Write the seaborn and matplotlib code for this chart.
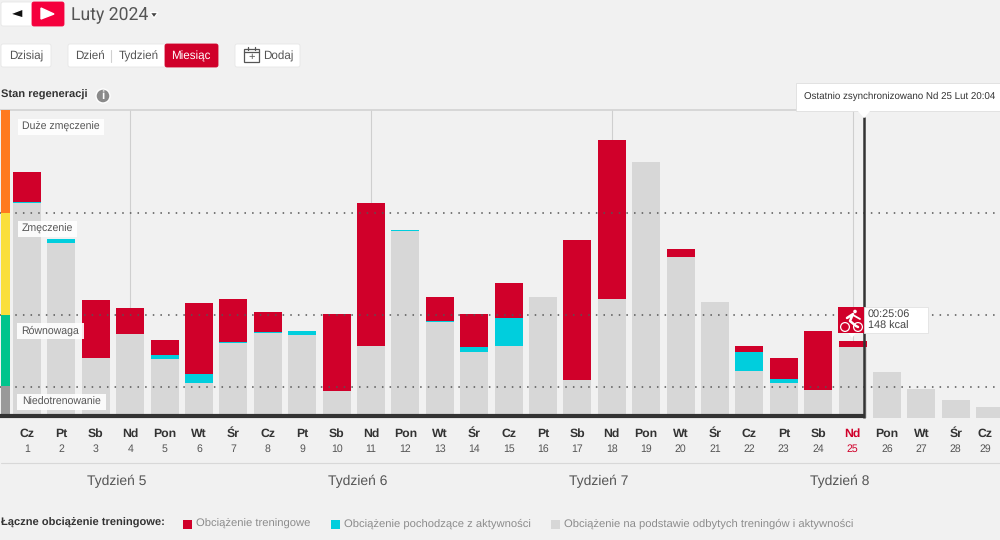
import numpy as np
import pandas as pd
import matplotlib
matplotlib.use('Agg')
import matplotlib.pyplot as plt
from matplotlib.patches import Rectangle, FancyBboxPatch, Polygon, Circle
import seaborn as sns

weekdays = ['Cz', 'Pt', 'Sb', 'Nd', 'Pon', 'Wt', 'Śr'] * 4 + ['Cz']
days = list(range(1, 30))
base_load = [215, 175, 60, 84, 59, 35, 75, 85, 83, 27, 72, 187, 96, 66, 72,
             121, 38, 119, 256, 161, 116, 47, 35, 28, 71, 46, 29, 18, 11]
activity_load = [1, 4, 0, 0, 4, 9, 1, 1, 4, 0, 0, 1, 1, 5, 28,
                 0, 0, 0, 0, 0, 0, 19, 4, 0, 0, 0, 0, 0, 0]
training_load = [30, 0, 58, 26, 15, 71, 43, 20, 0, 77, 143, 0, 24, 33, 35,
                 0, 140, 159, 0, 8, 0, 6, 21, 59, 6, 0, 0, 0, 0]
weeks = ['Tydzień 5', 'Tydzień 6', 'Tydzień 7', 'Tydzień 8']
week_days = [3, 10, 17, 24]
thresholds = [205, 103, 31]

RED = '#d0002a'
CYAN = '#00cedd'
GREY = '#d7d7d7'
BG = '#f1f1f1'
DARK = '#333333'
TEXT = '#555555'

sns.set_theme(style='white')
plt.rcParams['font.family'] = ['Liberation Sans', 'DejaVu Sans']
plt.rcParams['text.hinting'] = 'no_hinting'

df = pd.DataFrame({'day': days, 'base': base_load, 'activity': activity_load, 'training': training_load})
df['base_activity'] = df['base'] + df['activity']
df['total'] = df['base_activity'] + df['training']

fig = plt.figure(figsize=(10, 5.4), dpi=100, facecolor=BG)
ax = fig.add_axes([0, 1 - 418 / 540, 1, 308 / 540], facecolor=BG)

# layered from the tallest down so the stack shows
for col, colour in [('total', RED), ('base_activity', CYAN), ('base', GREY)]:
    sns.barplot(data=df, x='day', y=col, color=colour, width=0.81, saturation=1,
                linewidth=0, edgecolor='none', ax=ax, zorder=2)

ax.set_xlim(-27 / 34.4, (1000 - 27) / 34.4)
ax.set_ylim(0, 308)
ax.set_xlabel('')
ax.set_ylabel('')
ax.set_xticks([])
ax.set_yticks([])
for side in ['left', 'right', 'bottom']:
    ax.spines[side].set_visible(False)
ax.spines['top'].set_color('#d4d4d4')

for d in week_days:
    ax.axvline(d, color='#cfcfcf', lw=0.8, zorder=1)
for t in thresholds:
    ax.axhline(t, color='#555555', lw=1.1, ls=(0, (1, 4)), zorder=3)

# day and week labels below the chart
for i, (wd, d) in enumerate(zip(weekdays, days)):
    x = i - 0.15 if d == 29 else i
    colour = RED if d == 25 else '#333333'
    ax.text(x, -16, wd, ha='center', va='center', fontsize=8.8, fontweight='bold', color=colour)
    ax.text(x, -31, str(d), ha='center', va='center', fontsize=7.6, color=RED if d == 25 else TEXT)
for d, w in zip(week_days, weeks):
    ax.text(d - 0.38, -63, w, ha='center', va='center', fontsize=10, color=TEXT)

# page furniture, in pixel coordinates
ov = fig.add_axes([0, 0, 1, 1], zorder=5)
ov.set_xlim(0, 1000)
ov.set_ylim(540, 0)
ov.axis('off')


def button(x0, y0, x1, y1, colour='white', z=2):
    ov.add_patch(FancyBboxPatch((x0 + 2, y0 + 2), x1 - x0 - 4, y1 - y0 - 4, boxstyle='round,pad=2',
                                fc=colour, ec='#e6e6e6' if colour == 'white' else colour, lw=0.6, zorder=z))


def label(x, y, s, size=8.4, colour=TEXT, ha='left', weight='normal', z=6, **kw):
    ov.text(x, y, s, fontsize=size, color=colour, ha=ha, va='center', fontweight=weight, zorder=z, **kw)


# month navigation
button(1, 2, 33, 26)
button(32, 2, 64, 26, '#f5003d')
ov.add_patch(Polygon([[10, 14], [23, 9], [23, 18]], fc='#111111', zorder=3))
ov.add_patch(Polygon([[41, 8], [41, 19], [54, 14]], fc='white', zorder=3))
label(71, 15, 'Luty 2024', size=12.7, colour='#555555', family='Roboto')
ov.add_patch(Polygon([[150, 12.5], [158, 12.5], [154, 18]], fc='#444444', zorder=3))

# view buttons
button(1, 44, 51, 67)
label(26, 56, 'Dzisiaj', ha='center')
button(68, 44, 166, 67)
label(90, 56, 'Dzień', ha='center')
ov.plot([111, 111], [50, 62], color='#d0d0d0', lw=0.8, zorder=3)
label(139, 56, 'Tydzień', ha='center')
button(165, 44, 218, 67, RED)
label(191, 56, 'Miesiąc', ha='center', colour='white')
button(235, 44, 300, 67)
ov.add_patch(Rectangle((244, 49), 15, 13, fc='none', ec='#555555', lw=0.9, zorder=3))
ov.plot([244, 259], [52, 52], color='#555555', lw=0.9, zorder=3)
ov.plot([248, 248], [47, 50], color='#555555', lw=0.9, zorder=3)
ov.plot([255, 255], [47, 50], color='#555555', lw=0.9, zorder=3)
label(251.5, 57, '+', ha='center', colour='#555555', size=8)
label(263, 56, 'Dodaj')

label(1, 95, 'Stan regeneracji', size=8.05, colour='#333333', weight='bold')
ov.add_patch(Circle((103, 96), 7, fc='#8a8a8a', zorder=3))
label(103, 96, 'i', ha='center', colour='white', size=8.5, weight='bold')

# regeneration strip and band labels
for y0, y1, colour in [(110, 213, '#ff7a1f'), (213, 315, '#fadf3c'), (315, 386, '#00c48c'), (386, 414, '#999999')]:
    ov.add_patch(Rectangle((1, y0), 9, y1 - y0, fc=colour, ec='none', zorder=3))
for x0, x1, yc, s in [(18, 104, 127, 'Duże zmęczenie'), (18, 77, 229, 'Zmęczenie'),
                      (17, 84, 331, 'Równowaga'), (17, 106, 402, 'Niedotrenowanie')]:
    ov.add_patch(Rectangle((x0, yc - 8), x1 - x0, 16, fc='white', alpha=0.9, ec='none', zorder=3))
    label((x0 + x1) / 2, yc, s, size=7.6, ha='center')

# today marker and sync tooltip
ov.plot([0, 864], [416, 416], color=DARK, lw=3, solid_capstyle='butt', zorder=4)
ov.plot([864, 864], [117, 418], color=DARK, lw=1.8, solid_capstyle='butt', zorder=4)
ov.add_patch(Rectangle((796, 83), 204, 28, fc='white', ec='#dedede', lw=0.6, zorder=5))
ov.add_patch(Polygon([[857, 110], [871, 110], [864, 118]], fc='white', ec='none', zorder=5))
label(804, 96, 'Ostatnio zsynchronizowano Nd 25 Lut 20:04', size=7.0, colour='#333333', z=6)

# activity tooltip with the cycling icon
ov.add_patch(Rectangle((864, 307), 64, 26, fc='white', ec='#e2e2e2', lw=0.6, zorder=5))
ov.add_patch(Rectangle((838, 307), 26, 26, fc=RED, ec='none', zorder=5))
ov.add_patch(Polygon([[848, 333], [856, 333], [852, 338]], fc='white', ec='none', zorder=5))
ov.add_patch(Circle((845, 327), 4.4, fc='none', ec='white', lw=0.9, zorder=6))
ov.add_patch(Circle((858, 327), 4.4, fc='none', ec='white', lw=0.9, zorder=6))
ov.add_patch(Circle((855, 311.5), 1.8, fc='white', ec='none', zorder=6))
ov.plot([847, 853, 850, 856, 858], [318, 314, 321, 326, 327], color='white', lw=1.8, zorder=6)
ov.plot([853, 860], [315, 319], color='white', lw=1.3, zorder=6)
label(868, 314, '00:25:06', size=7.8, colour='#444444')
label(868, 326, '148 kcal', size=7.8, colour='#444444')

# separator and legend
ov.plot([1, 1000], [463, 463], color='#d8d8d8', lw=0.8, zorder=1)
label(1, 523, 'Łączne obciążenie treningowe:', size=8.05, colour='#333333', weight='bold')
for x, colour, s in [(183, RED, 'Obciążenie treningowe'), (331, CYAN, 'Obciążenie pochodzące z aktywności'),
                     (551, GREY, 'Obciążenie na podstawie odbytych treningów i aktywności')]:
    ov.add_patch(Rectangle((x, 520), 9, 9, fc=colour, ec='none', zorder=3))
    label(x + 13, 523.5, s, size=8.12, colour='#8c8c8c')

fig.savefig('out.png', dpi=100, facecolor=BG)
